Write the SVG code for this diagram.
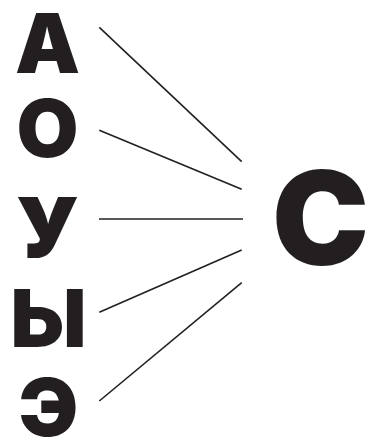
<svg xmlns="http://www.w3.org/2000/svg" width="372" height="441" viewBox="0 0 372 441">
<style>
.l{font-family:Inter,"Liberation Sans",Arial,sans-serif;font-weight:900;fill:#231f20;text-anchor:middle}
.c{stroke:#231f20;stroke-width:1.6;fill:none}
</style>
<rect width="372" height="441" fill="#fff"/>
<g id="nA"><text class="l" x="47.5" y="73" font-size="82">А</text></g>
<g id="nO"><text class="l" x="47.5" y="157" font-size="80">О</text></g>
<g id="nU"><text class="l" x="47.5" y="258" font-size="84">У</text></g>
<g id="nY"><text class="l" x="48.5" y="347" font-size="80">Ы</text></g>
<g id="nE"><text class="l" x="48.5" y="436" font-size="80">Э</text></g>
<g id="nS"><text class="l" x="320.5" y="265" font-size="130">С</text></g>
<g id="connectors">
<line class="c" x1="99.3" y1="27.3" x2="241.7" y2="161.7"/>
<line class="c" x1="99.3" y1="130.3" x2="241.7" y2="189.3"/>
<line class="c" x1="99" y1="219" x2="243" y2="219"/>
<line class="c" x1="99.3" y1="312.3" x2="241.7" y2="250"/>
<line class="c" x1="99.3" y1="401" x2="241.7" y2="282.7"/>
</g>
</svg>
